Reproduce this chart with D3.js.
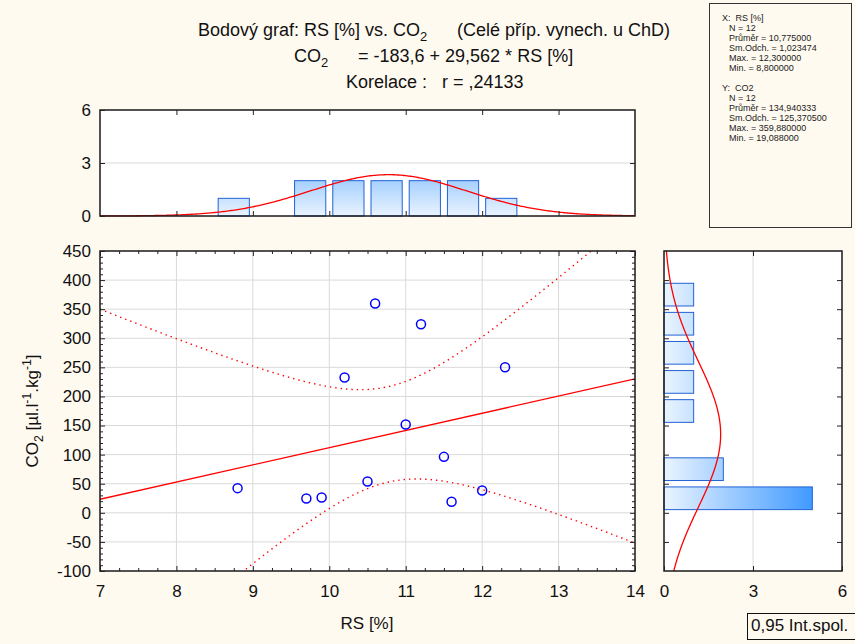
<!DOCTYPE html>
<html>
<head>
<meta charset="utf-8">
<script src="https://cdn.jsdelivr.net/npm/d3@7"></script>
<style>
  body { margin: 0; background: #fffaf0; }
  svg { display: block; }
  text { font-family: "Liberation Sans", Arial, sans-serif; }
</style>
</head>
<body>
<svg id="chart" width="855" height="644"></svg>
<script>
// Paired observations: RS [%] and CO2 [µl.l-1.kg-1]
const rsValues  = [8.8, 9.7, 9.9, 10.2, 10.5, 10.6, 11.0, 11.2, 11.5, 11.6, 12.0, 12.3];
const co2Values = [42.4, 24.6, 26.3, 232.5, 53.8, 359.88, 151.8, 324.1, 96.2, 19.088, 38.4, 250.2];

// Descriptive statistics as reported
const rsStats  = { n: 12, mean: 10.775, sd: 1.023474, max: 12.3, min: 8.8 };
const co2Stats = { n: 12, mean: 134.940333, sd: 125.3705, max: 359.88, min: 19.088 };

// Fitted line CO2 = a + b * RS and correlation
const fitIntercept = -183.6;
const fitSlope = 29.562;
const correlation = 0.24133;
const tCritical = 2.228139;   // t(0.975, n-2 = 10)

// Axis ticks
const rsTicks = [7, 8, 9, 10, 11, 12, 13, 14];
const co2Ticks = [-100, -50, 0, 50, 100, 150, 200, 250, 300, 350, 400, 450];
const countTicks = [0, 3, 6];

// Histogram bin widths
const rsBinWidth = 0.5;
const co2BinWidth = 50;

const fmt = (v, d) => v.toFixed(d).replace(".", ",");
const svg = d3.select("#chart");
const FONT = "'Liberation Sans', Arial, sans-serif";

// ---- scales ----
const x = d3.scaleLinear([7, 14], [100, 635]);
const y = d3.scaleLinear([-100, 450], [571, 251]);
const hy = d3.scaleLinear([0, 6], [216, 110]);   // top histogram counts
const hx = d3.scaleLinear([0, 6], [664, 842]);   // right histogram counts

// ---- gradients for histogram bars ----
const defs = svg.append("defs");
const gradV = defs.append("linearGradient").attr("id", "barGradV")
  .attr("gradientUnits", "userSpaceOnUse")
  .attr("x1", 0).attr("x2", 0).attr("y1", hy(0)).attr("y2", hy(6));
gradV.append("stop").attr("offset", 0).attr("stop-color", "#eaf4ff");
gradV.append("stop").attr("offset", 1).attr("stop-color", "#1e88ff");
const gradH = defs.append("linearGradient").attr("id", "barGradH")
  .attr("gradientUnits", "userSpaceOnUse")
  .attr("y1", 0).attr("y2", 0).attr("x1", hx(0)).attr("x2", hx(6));
gradH.append("stop").attr("offset", 0).attr("stop-color", "#eaf4ff");
gradH.append("stop").attr("offset", 1).attr("stop-color", "#1e88ff");
defs.append("clipPath").attr("id", "clipMain").append("rect")
  .attr("x", 100).attr("y", 251).attr("width", 535).attr("height", 320);

// right-closed bins (lo, hi]
function binCounts(values, lo, hi, w) {
  const edges = d3.range(lo, hi + w / 2, w);
  return edges.slice(0, -1).map((e, i) => ({
    x0: e, x1: edges[i + 1],
    count: values.filter(v => v > e && v <= edges[i + 1]).length
  }));
}
const normPdf = (v, m, s) => Math.exp(-0.5 * ((v - m) / s) ** 2) / (s * Math.sqrt(2 * Math.PI));

// helper: tick marks pointing into a panel
function ticks(g, axisFn, scale, values, pos, len, labels, pad, fs) {
  const a = axisFn(scale).tickValues(values).tickSizeInner(-len).tickSizeOuter(0)
    .tickPadding(pad || 0).tickFormat(labels ? (d => String(d)) : "");
  const el = g.append("g").attr("transform", pos).call(a);
  el.select(".domain").remove();
  el.attr("font-family", FONT).attr("font-size", fs || 17).attr("color", "#111");
  el.selectAll("line").attr("stroke", "#222");
  return el;
}

// ================= main scatter panel =================
const mainPanel = svg.append("g");
mainPanel.append("rect").attr("x", 100).attr("y", 251).attr("width", 535).attr("height", 320).attr("fill", "#fff");
mainPanel.append("g").selectAll("line").data(rsTicks.slice(1, -1)).join("line")
  .attr("x1", d => x(d)).attr("x2", d => x(d)).attr("y1", 251).attr("y2", 571)
  .attr("stroke", "#dadada").attr("stroke-width", 1);
mainPanel.append("g").selectAll("line").data(co2Ticks.slice(1, -1)).join("line")
  .attr("y1", d => y(d)).attr("y2", d => y(d)).attr("x1", 100).attr("x2", 635)
  .attr("stroke", "#dadada").attr("stroke-width", 1);

// confidence band for the fitted line
const xBar = d3.mean(rsValues);
const sxx = d3.sum(rsValues, v => (v - xBar) ** 2);
const resid = rsValues.map((v, i) => co2Values[i] - (fitIntercept + fitSlope * v));
const sRes = Math.sqrt(d3.sum(resid, r => r * r) / (rsValues.length - 2));
const gridX = d3.range(7, 14.0001, 0.05);
const half = v => tCritical * sRes * Math.sqrt(1 / rsValues.length + (v - xBar) ** 2 / sxx);
const fitAt = v => fitIntercept + fitSlope * v;
const lineGen = d3.line().x(d => x(d[0])).y(d => y(d[1]));
const clipG = mainPanel.append("g").attr("clip-path", "url(#clipMain)");
[1, -1].forEach(sgn => {
  clipG.append("path").datum(gridX.map(v => [v, fitAt(v) + sgn * half(v)]))
    .attr("d", lineGen).attr("fill", "none").attr("stroke", "#ff0000")
    .attr("stroke-width", 1.4).attr("stroke-dasharray", "1.4,4");
});
clipG.append("path").datum([[7, fitAt(7)], [14, fitAt(14)]])
  .attr("d", lineGen).attr("fill", "none").attr("stroke", "#ff0000").attr("stroke-width", 1.3);

mainPanel.append("g").selectAll("circle").data(rsValues.map((v, i) => [v, co2Values[i]])).join("circle")
  .attr("cx", d => x(d[0])).attr("cy", d => y(d[1])).attr("r", 4.5)
  .attr("fill", "none").attr("stroke", "#0000ff").attr("stroke-width", 1.5);

mainPanel.append("rect").attr("x", 100).attr("y", 251).attr("width", 535).attr("height", 320)
  .attr("fill", "none").attr("stroke", "#1a1a1a").attr("stroke-width", 1.5);

const co2Minor = d3.range(-100, 451, 10).filter(v => v % 50 !== 0);
const rsMinor = d3.range(7, 14.001, 0.25).filter(v => Math.abs(v - Math.round(v)) > 1e-6);
ticks(mainPanel, d3.axisLeft, y, co2Ticks, "translate(100,0)", 5, true, 9);
ticks(mainPanel, d3.axisLeft, y, co2Minor, "translate(100,0)", 3, false);
ticks(mainPanel, d3.axisRight, y, co2Ticks, "translate(635,0)", 5, false);
ticks(mainPanel, d3.axisRight, y, co2Minor, "translate(635,0)", 3, false);
ticks(mainPanel, d3.axisBottom, x, rsTicks, "translate(0,571)", 5, true, 14);
ticks(mainPanel, d3.axisBottom, x, rsMinor, "translate(0,571)", 3, false);
ticks(mainPanel, d3.axisTop, x, rsTicks, "translate(0,251)", 5, false);
ticks(mainPanel, d3.axisTop, x, rsMinor, "translate(0,251)", 3, false);

// ================= top histogram (RS) =================
const topPanel = svg.append("g");
topPanel.append("rect").attr("x", 100).attr("y", 110).attr("width", 535).attr("height", 106).attr("fill", "#fff");
topPanel.append("line").attr("x1", 100).attr("x2", 635).attr("y1", hy(3)).attr("y2", hy(3))
  .attr("stroke", "#dadada");
const rsBins = binCounts(rsValues, 7, 14, rsBinWidth).filter(b => b.count > 0);
topPanel.append("g").selectAll("rect").data(rsBins).join("rect")
  .attr("x", d => x(d.x0) + 3.5).attr("width", d => x(d.x1) - x(d.x0) - 7)
  .attr("y", d => hy(d.count)).attr("height", d => hy(0) - hy(d.count))
  .attr("fill", "url(#barGradV)").attr("stroke", "#2262d4").attr("stroke-width", 1);
const rsCurve = d3.range(7, 14.0001, 0.02).map(v => [v, rsStats.n * rsBinWidth * normPdf(v, rsStats.mean, rsStats.sd)]);
topPanel.append("path").datum(rsCurve)
  .attr("d", d3.line().x(d => x(d[0])).y(d => hy(d[1])))
  .attr("fill", "none").attr("stroke", "#ff0000").attr("stroke-width", 1.3);
topPanel.append("rect").attr("x", 100).attr("y", 110).attr("width", 535).attr("height", 106)
  .attr("fill", "none").attr("stroke", "#1a1a1a").attr("stroke-width", 1.5);
ticks(topPanel, d3.axisLeft, hy, countTicks, "translate(100,0)", 5, true, 9);
ticks(topPanel, d3.axisRight, hy, [3], "translate(635,0)", 5, false);
ticks(topPanel, d3.axisBottom, x, rsTicks.slice(1, -1), "translate(0,216)", 5, false);
ticks(topPanel, d3.axisTop, x, rsTicks.slice(1, -1), "translate(0,110)", 5, false);

// ================= right histogram (CO2) =================
const sidePanel = svg.append("g");
sidePanel.append("rect").attr("x", 664).attr("y", 251).attr("width", 178).attr("height", 320).attr("fill", "#fff");
sidePanel.append("line").attr("x1", hx(3)).attr("x2", hx(3)).attr("y1", 251).attr("y2", 571)
  .attr("stroke", "#dadada");
const co2Bins = binCounts(co2Values, -100, 450, co2BinWidth).filter(b => b.count > 0);
sidePanel.append("g").selectAll("rect").data(co2Bins).join("rect")
  .attr("x", hx(0)).attr("width", d => hx(d.count) - hx(0))
  .attr("y", d => y(d.x1) + 3.2).attr("height", d => y(d.x0) - y(d.x1) - 6.4)
  .attr("fill", "url(#barGradH)").attr("stroke", "#2262d4").attr("stroke-width", 1);
const co2Curve = d3.range(-100, 450.001, 2).map(v => [v, co2Stats.n * co2BinWidth * normPdf(v, co2Stats.mean, co2Stats.sd)]);
sidePanel.append("path").datum(co2Curve)
  .attr("d", d3.line().x(d => hx(d[1])).y(d => y(d[0])))
  .attr("fill", "none").attr("stroke", "#ff0000").attr("stroke-width", 1.3);
sidePanel.append("rect").attr("x", 664).attr("y", 251).attr("width", 178).attr("height", 320)
  .attr("fill", "none").attr("stroke", "#1a1a1a").attr("stroke-width", 1.5);
ticks(sidePanel, d3.axisLeft, y, co2Ticks.slice(1, -1), "translate(664,0)", 5, false);
ticks(sidePanel, d3.axisRight, y, co2Ticks.slice(1, -1), "translate(842,0)", 5, false);
ticks(sidePanel, d3.axisBottom, hx, countTicks, "translate(0,571)", 5, true, 14);
ticks(sidePanel, d3.axisTop, hx, [3], "translate(0,251)", 5, false);

// ================= titles and labels =================
function richText(parent, xPos, yPos, parts, size, anchor) {
  const t = parent.append("text").attr("x", xPos).attr("y", yPos)
    .attr("font-size", size).attr("fill", "#111").attr("text-anchor", anchor || "start");
  parts.forEach(p => {
    const s = t.append("tspan").text(p.t);
    if (p.sub) s.attr("font-size", size * 0.72).attr("dy", size * 0.3);
    if (p.sup) s.attr("font-size", size * 0.72).attr("dy", -size * 0.42);
    if (p.back) s.attr("dy", p.back);
  });
  return t;
}
richText(svg, 198, 36, [{ t: "Bodový graf: RS [%] vs. CO" }, { t: "2", sub: true }], 18);
richText(svg, 457, 36, [{ t: "(Celé příp. vynech. u ChD)" }], 18);
richText(svg, 294, 62, [{ t: "CO" }, { t: "2", sub: true }], 18);
richText(svg, 358, 62, [{ t: `= ${fmt(fitIntercept, 1)} + ${fmt(fitSlope, 3)} * RS [%]` }], 18);
richText(svg, 346, 88, [{ t: "Korelace :" }], 18);
richText(svg, 442, 88, [{ t: "r = " + fmt(correlation, 5).replace(/^0/, "") }], 18);

svg.append("text").attr("x", 367).attr("y", 629).attr("text-anchor", "middle")
  .attr("font-size", 17).attr("fill", "#111").text("RS [%]");

const yl = svg.append("g").attr("transform", "translate(38,411) rotate(-90)");
richText(yl, 0, 0, [
  { t: "CO" }, { t: "2", sub: true }, { t: " [µl.l", back: -17 * 0.3 },
  { t: "-1", sup: true }, { t: ".kg", back: 17 * 0.42 }, { t: "-1", sup: true },
  { t: "]", back: 17 * 0.42 }
], 17, "middle");

// statistics box
svg.append("rect").attr("x", 709.5).attr("y", 3.5).attr("width", 142).attr("height", 224)
  .attr("fill", "none").attr("stroke", "#333").attr("stroke-width", 1);
const statLines = [
  [722, "X:  RS [%]"], [729, `N = ${rsStats.n}`], [729, `Průměr = ${fmt(rsStats.mean, 6)}`],
  [729, `Sm.Odch. = ${fmt(rsStats.sd, 6)}`], [729, `Max. = ${fmt(rsStats.max, 6)}`],
  [729, `Min. = ${fmt(rsStats.min, 6)}`]
];
const statLinesY = [
  [722, "Y:  CO2"], [729, `N = ${co2Stats.n}`], [729, `Průměr = ${fmt(co2Stats.mean, 6)}`],
  [729, `Sm.Odch. = ${fmt(co2Stats.sd, 6)}`], [729, `Max. = ${fmt(co2Stats.max, 6)}`],
  [729, `Min. = ${fmt(co2Stats.min, 6)}`]
];
const statG = svg.append("g").attr("font-size", 9).attr("fill", "#222");
statLines.forEach((l, i) => statG.append("text").attr("x", l[0]).attr("y", 20.5 + i * 10)
  .attr("xml:space", "preserve").style("white-space", "pre").text(l[1]));
statLinesY.forEach((l, i) => statG.append("text").attr("x", l[0]).attr("y", 90.5 + i * 10)
  .attr("xml:space", "preserve").style("white-space", "pre").text(l[1]));

// confidence level note
svg.append("rect").attr("x", 747.5).attr("y", 613.5).attr("width", 110).attr("height", 26)
  .attr("fill", "none").attr("stroke", "#111").attr("stroke-width", 1);
svg.append("text").attr("x", 751).attr("y", 631).attr("font-size", 17).attr("fill", "#111")
  .text("0,95 Int.spol.");
</script>
</body>
</html>
